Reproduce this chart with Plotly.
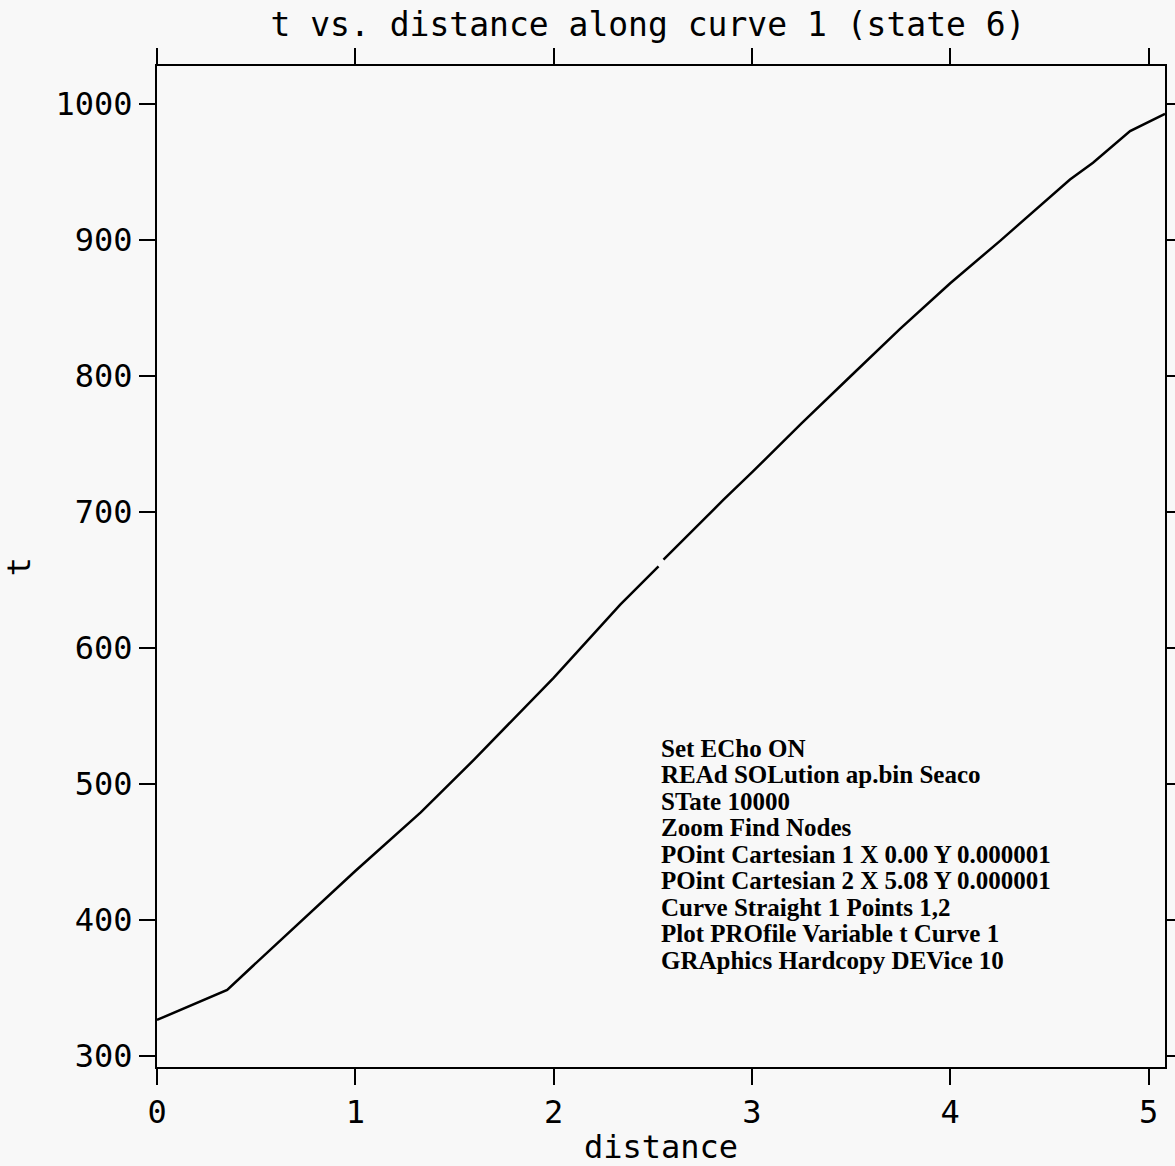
import plotly.graph_objects as go

# distance along curve 1 vs t; None marks the small break in the trace
distance = [0.000, 0.354, 0.471, 1.000, 1.330, 1.395, 1.600, 2.000, 2.235, 2.336, 2.529,
            None,
            2.554, 2.739, 2.857, 3.000, 3.250, 3.500, 3.747, 4.000, 4.250, 4.604, 4.720, 4.907, 5.083]
t_values = [326.5, 348.5, 364.5, 436.0, 479.0, 488.3, 518.0, 578.0, 615.8, 631.7, 659.9,
            None,
            664.8, 691.8, 708.9, 729.0, 765.0, 800.0, 834.5, 868.0, 899.0, 944.3, 956.6, 979.8, 992.6]

x_ticks = [0, 1, 2, 3, 4, 5]
y_ticks = [300, 400, 500, 600, 700, 800, 900, 1000]

command_lines = [
    "Set ECho ON",
    "REAd SOLution ap.bin Seaco",
    "STate 10000",
    "Zoom Find Nodes",
    "POint Cartesian 1 X 0.00 Y 0.000001",
    "POint Cartesian 2 X 5.08 Y 0.000001",
    "Curve Straight 1 Points 1,2",
    "Plot PROfile Variable t Curve 1",
    "GRAphics Hardcopy DEVice 10",
]

W, H = 1175, 1166
ML, MR, MT, MB = 157, 10, 66, 99
plot_h = H - MT - MB

mono = "DejaVu Sans Mono"
BG = "#f8f8f8"

fig = go.Figure()
fig.add_trace(go.Scatter(
    x=distance, y=t_values, mode="lines",
    line=dict(color="black", width=2.5),
    connectgaps=False, showlegend=False, hoverinfo="skip",
))

# command text block (each line placed separately to match line spacing)
first_line_px, line_step = 748, 26.5
for i, txt in enumerate(command_lines):
    ypx = first_line_px + i * line_step
    fig.add_annotation(
        text=txt, xref="paper", yref="paper",
        x=(659 - ML) / (W - ML - MR), y=(H - MB - ypx) / plot_h,
        xanchor="left", yanchor="middle", showarrow=False,
        font=dict(family="Liberation Serif", size=25, color="black", weight="bold"),
    )

axis_common = dict(
    showline=True, linecolor="black", linewidth=2, mirror="ticks",
    ticks="outside", ticklen=16, tickwidth=2, tickcolor="black",
    showgrid=False, zeroline=False, automargin=False,
    tickfont=dict(family=mono, size=32, color="black"),
)

fig.update_layout(
    width=W, height=H,
    margin=dict(l=ML, r=MR, t=MT, b=MB, autoexpand=False),
    paper_bgcolor=BG, plot_bgcolor=BG,
    title=dict(
        text="t vs. distance along curve 1 (state 6)",
        font=dict(family=mono, size=33, color="black"),
        x=(648 - ML) / (W - ML - MR), xref="paper", xanchor="center",
        y=1 - 24 / H, yref="container", yanchor="middle", automargin=False,
    ),
    xaxis=dict(
        range=[0, 5.083], tickvals=x_ticks, ticktext=[str(v) for v in x_ticks],
        title=dict(text="distance", font=dict(family=mono, size=32, color="black"), standoff=9),
        **axis_common,
    ),
    yaxis=dict(
        range=[291.9, 1027.7], tickvals=y_ticks, ticktext=[str(v) for v in y_ticks],
        title=dict(text="t", font=dict(family=mono, size=32, color="black"), standoff=33),
        **axis_common,
    ),
)

fig.write_html(
    "out.html",
    config={"displayModeBar": False},
    post_script="document.body.style.margin='0';document.body.style.background='%s';"
                "document.body.style.overflow='hidden';" % BG,
)
